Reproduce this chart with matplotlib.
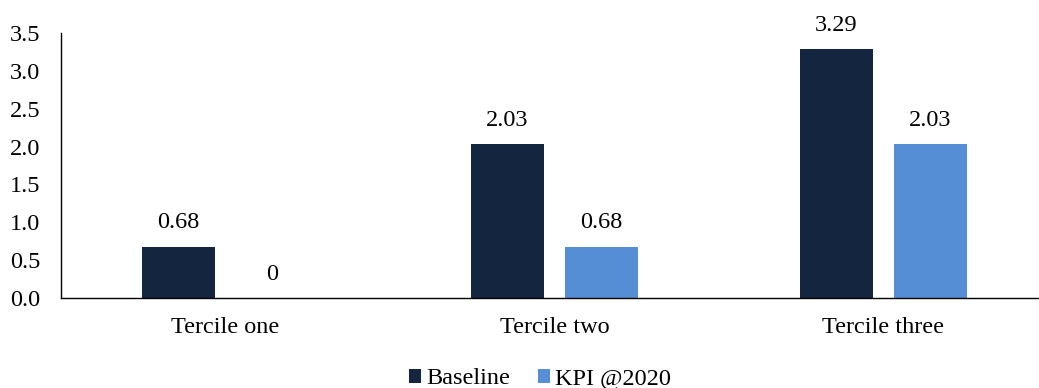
import matplotlib
matplotlib.use("Agg")
import matplotlib.pyplot as plt
from matplotlib.patches import Patch
import numpy as np

categories = ["Tercile one", "Tercile two", "Tercile three"]
series_names = ["Baseline", "KPI @2020"]
baseline = [0.68, 2.03, 3.29]
kpi = [0, 0.68, 2.03]
baseline_labels = ["0.68", "2.03", "3.29"]
kpi_labels = ["0", "0.68", "2.03"]
yticks = [0.0, 0.5, 1.0, 1.5, 2.0, 2.5, 3.0, 3.5]

colors = ["#13253F", "#558ED5"]

plt.rcParams['font.family'] = ['Liberation Serif', 'DejaVu Serif']
FS = 17.5

fig = plt.figure(figsize=(10.39, 3.88), dpi=100)
W, H = 1039, 388
ax = fig.add_axes([61 / W, 90 / H, 987 / W, 265 / H])

x = np.arange(len(categories))
w = 0.222
off = 0.1428
b1 = ax.bar(x - off, baseline, w, color=colors[0], label=series_names[0])
b2 = ax.bar(x + off, kpi, w, color=colors[1], label=series_names[1])

for bars, labs in ((b1, baseline_labels), (b2, kpi_labels)):
    for rect, lab in zip(bars, labs):
        ax.annotate(lab, (rect.get_x() + rect.get_width() / 2, rect.get_height()),
                    xytext=(0, 9.5), textcoords="offset points",
                    ha="center", va="bottom", fontsize=FS, color="#000000")

ax.set_xlim(-0.5, 2.5)
ax.set_ylim(0, 3.5)
ax.set_yticks(yticks)
ax.set_yticklabels([f"{v:.1f}" for v in yticks])
ax.set_xticks(x)
ax.set_xticklabels(categories)
ax.tick_params(axis='y', length=0, pad=15, labelsize=FS)
ax.tick_params(axis='x', length=0, pad=14, labelsize=FS)
for s in ("top", "right"):
    ax.spines[s].set_visible(False)
ax.spines["left"].set_linewidth(1.0)
ax.spines["bottom"].set_linewidth(1.0)

handles = [Patch(facecolor=colors[0]), Patch(facecolor=colors[1])]
fig.legend(handles, series_names, loc="center", bbox_to_anchor=(540 / W, 9 / H),
           ncol=2, frameon=False, fontsize=FS, handlelength=0.5, handleheight=0.5,
           handletextpad=0.2, columnspacing=1.15, borderpad=0)

fig.savefig("out.png", dpi=100)
